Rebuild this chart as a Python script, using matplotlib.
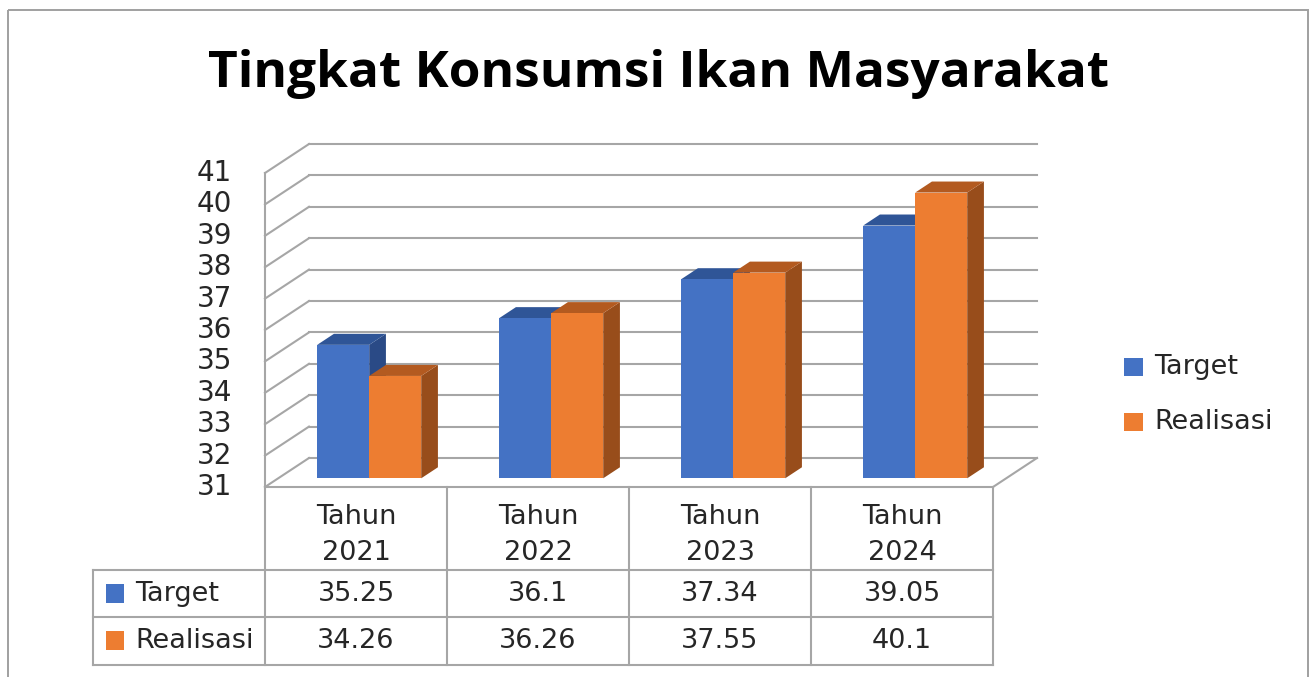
import matplotlib.pyplot as plt
from matplotlib.patches import Polygon, Rectangle

years = [2021, 2022, 2023, 2024]
series_names = ["Target", "Realisasi"]
target = [35.25, 36.1, 37.34, 39.05]
realisasi = [34.26, 36.26, 37.55, 40.1]
y_ticks = list(range(31, 42))

front_cols = ["#4472C4", "#ED7D31"]
top_cols = ["#2F5597", "#B35A20"]
side_cols = ["#2A4A86", "#984D1B"]
grid_col = "#A6A6A6"
txt_col = "#262626"

W, H = 1314, 677
fig = plt.figure(figsize=(W / 100, H / 100), dpi=100)

# background axes in pixel units (frame, title, table, legend)
bg = fig.add_axes([0, 0, 1, 1])
bg.set_xlim(0, W)
bg.set_ylim(H, 0)
bg.axis("off")
bg.add_patch(Rectangle((8, 10), 1300, 700, fill=False, ec="#A0A0A0", lw=1.4, clip_on=False))

bg.text(659, 87, "Tingkat Konsumsi Ikan Masyarakat", ha="center", va="baseline",
        fontsize=37, fontweight="bold", family="Open Sans", color="black")

# main 3d-look chart axes
cat_px = 182.0
unit_px = 31.4
ax = fig.add_axes([265 / W, (H - 487) / H, (1045 - 265) / W, (487 - 140) / H])
ax.set_xlim(-0.5, -0.5 + 780 / cat_px)
ax.set_ylim(31, 31 + 347 / unit_px)
ax.axis("off")

DX = 44 / cat_px
DY = 29 / unit_px
n = len(years)

# walls gridlines
for v in y_ticks:
    ax.plot([-0.5 + DX, n - 0.5 + DX], [v + DY, v + DY], color=grid_col, lw=1.5, clip_on=False, zorder=1)
    ax.plot([-0.5, -0.5 + DX], [v, v + DY], color=grid_col, lw=1.5, clip_on=False, zorder=1)
    ax.text(-0.5 - 33 / cat_px, v, str(v), ha="right", va="center", fontsize=20,
            color=txt_col, clip_on=False)
ax.plot([-0.5, -0.5], [31, y_ticks[-1]], color=grid_col, lw=1.5, clip_on=False, zorder=1)
ax.plot([n - 0.5, n - 0.5 + DX], [31, 31 + DY], color=grid_col, lw=1.5, clip_on=False, zorder=1)

# bars
bw = 52 / cat_px
f = 0.3   # front of bar in depth units
d = 0.38  # bar depth
for i in range(n):
    for s, vals in enumerate([target, realisasi]):
        v = vals[i]
        x0 = i - bw + s * bw + f * DX
        x1 = x0 + bw
        yb = 31 + f * DY
        yt = v + f * DY
        ox, oy = d * DX, d * DY
        side = [(x1, yb), (x1 + ox, yb + oy), (x1 + ox, yt + oy), (x1, yt)]
        top = [(x0, yt), (x1, yt), (x1 + ox, yt + oy), (x0 + ox, yt + oy)]
        front = [(x0, yb), (x1, yb), (x1, yt), (x0, yt)]
        z = 3 + i * 2 + s
        ax.add_patch(Polygon(side, closed=True, fc=side_cols[s], ec="none", zorder=z, clip_on=False))
        ax.add_patch(Polygon(top, closed=True, fc=top_cols[s], ec="none", zorder=z, clip_on=False))
        ax.add_patch(Polygon(front, closed=True, fc=front_cols[s], ec="none", zorder=z, clip_on=False))

# data table
col_x = [265 + cat_px * k for k in range(n + 1)]
rows_y = [487, 570, 617, 665]
for y in rows_y[1:]:
    bg.plot([93, col_x[-1]], [y, y], color=grid_col, lw=1.5)
bg.plot([col_x[0], col_x[-1]], [487, 487], color=grid_col, lw=1.5)
for x in col_x:
    bg.plot([x, x], [487, 665], color=grid_col, lw=1.5)
bg.plot([93, 93], [570, 665], color=grid_col, lw=1.5)

for k, yr in enumerate(years):
    cx = col_x[k] + cat_px / 2
    bg.text(cx, 517, "Tahun", ha="center", va="center", fontsize=19.5, color=txt_col)
    bg.text(cx, 553, str(yr), ha="center", va="center", fontsize=19.5, color=txt_col)
    bg.text(cx, 594, f"{target[k]:g}", ha="center", va="center", fontsize=19.5, color=txt_col)
    bg.text(cx, 641, f"{realisasi[k]:g}", ha="center", va="center", fontsize=19.5, color=txt_col)

for s, (name, yc) in enumerate(zip(series_names, [594, 641])):
    bg.add_patch(Rectangle((106, yc - 10), 18, 19, fc=front_cols[s], ec="none"))
    bg.text(135, yc, name, ha="left", va="center", fontsize=19.5, color=txt_col)

# legend
for s, (name, yc) in enumerate(zip(series_names, [367, 422])):
    bg.add_patch(Rectangle((1124, yc - 9), 19, 18, fc=front_cols[s], ec="none"))
    bg.text(1154, yc, name, ha="left", va="center", fontsize=19.5, color=txt_col)

fig.savefig("out.png", dpi=100)
